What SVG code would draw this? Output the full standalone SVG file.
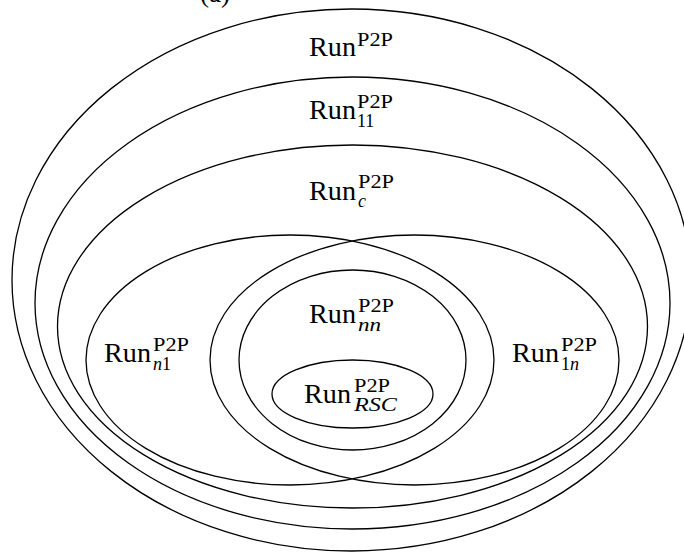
<svg xmlns="http://www.w3.org/2000/svg" width="684" height="552" viewBox="0 0 684 552">
<style>
.e{fill:none;stroke:#000;stroke-width:1.3}
.m{font-family:"Liberation Serif","Times New Roman",serif;font-size:27px;fill:#000}
.s{font-family:"Liberation Serif","Times New Roman",serif;font-size:18px;fill:#000}
.i{font-style:italic}
</style>
<rect width="684" height="552" fill="#fff"/>
<text class="m" x="200" y="2">(a)</text>
<g id="run">
<ellipse class="e" cx="351.5" cy="280" rx="339.5" ry="271"/>
<text class="m" x="309" y="56" textLength="47" lengthAdjust="spacingAndGlyphs">Run</text>
<text class="s" x="357" y="46" textLength="36" lengthAdjust="spacingAndGlyphs">P2P</text>
</g>
<g id="run11">
<ellipse class="e" cx="352.5" cy="303" rx="317.5" ry="226"/>
<text class="m" x="309" y="119" textLength="47" lengthAdjust="spacingAndGlyphs">Run</text>
<text class="s" x="357" y="108" textLength="36" lengthAdjust="spacingAndGlyphs">P2P</text>
<text class="s" x="357" y="127">11</text>
</g>
<g id="runc">
<ellipse class="e" cx="352.5" cy="326.5" rx="295" ry="181.5"/>
<text class="m" x="309" y="200" textLength="47" lengthAdjust="spacingAndGlyphs">Run</text>
<text class="s" x="358" y="188" textLength="36" lengthAdjust="spacingAndGlyphs">P2P</text>
<text class="s i" x="358" y="207">c</text>
</g>
<g id="runn1">
<ellipse class="e" cx="290" cy="360" rx="204" ry="125"/>
<text class="m" x="104" y="362" textLength="47" lengthAdjust="spacingAndGlyphs">Run</text>
<text class="s" x="153" y="351" textLength="36" lengthAdjust="spacingAndGlyphs">P2P</text>
<text class="s" x="153" y="370"><tspan class="i">n</tspan>1</text>
</g>
<g id="run1n">
<ellipse class="e" cx="414.5" cy="360" rx="204.5" ry="125"/>
<text class="m" x="512" y="362" textLength="47" lengthAdjust="spacingAndGlyphs">Run</text>
<text class="s" x="561" y="351" textLength="36" lengthAdjust="spacingAndGlyphs">P2P</text>
<text class="s" x="561" y="370">1<tspan class="i">n</tspan></text>
</g>
<g id="runnn">
<ellipse class="e" cx="352.5" cy="360" rx="113.5" ry="90"/>
<text class="m" x="309" y="323" textLength="47" lengthAdjust="spacingAndGlyphs">Run</text>
<text class="s" x="358" y="312" textLength="36" lengthAdjust="spacingAndGlyphs">P2P</text>
<text class="s i" x="358" y="331" textLength="23" lengthAdjust="spacingAndGlyphs">nn</text>
</g>
<g id="runrsc">
<ellipse class="e" cx="352.5" cy="394" rx="80.5" ry="34"/>
<text class="m" x="304" y="403" textLength="47" lengthAdjust="spacingAndGlyphs">Run</text>
<text class="s" x="354" y="392" textLength="36" lengthAdjust="spacingAndGlyphs">P2P</text>
<text class="s i" x="354" y="411" textLength="43" lengthAdjust="spacingAndGlyphs">RSC</text>
</g>
<g id="connectors"></g>
</svg>
